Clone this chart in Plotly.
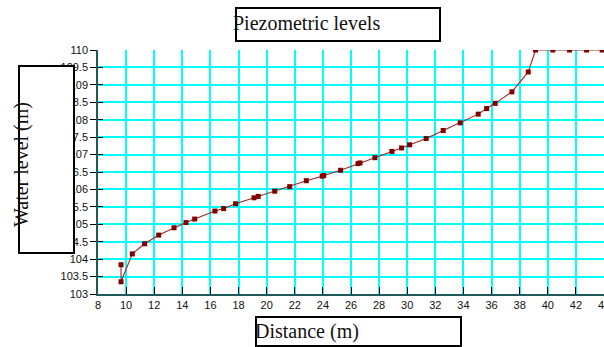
import plotly.graph_objects as go

# ---- data ----
distance = [9.64, 9.64, 10.44, 11.32, 12.32, 13.41, 14.26, 14.88, 16.32, 16.94, 17.79,
            19.10, 19.40, 20.57, 21.64, 22.82, 23.95, 24.06, 25.26, 26.50, 26.64, 27.70,
            28.91, 29.60, 30.17, 31.35, 32.56, 33.77, 35.05, 35.65, 36.26, 37.45, 38.61,
            39.13, 40.36, 41.55, 42.76, 43.87]
water_level = [103.84, 103.35, 104.15, 104.44, 104.69, 104.90, 105.05, 105.15, 105.38, 105.45,
               105.59, 105.76, 105.80, 105.95, 106.08, 106.25, 106.38, 106.40, 106.55, 106.74,
               106.76, 106.91, 107.09, 107.19, 107.28, 107.46, 107.69, 107.91, 108.16, 108.32,
               108.47, 108.80, 109.37, 110.0, 110.0, 110.0, 110.0, 110.0]

title_text = "Piezometric levels"
x_title = "Distance (m)"
y_title = "Water level (m)"

W, H = 604, 347
L, R, T, B = 98, 0, 50, 53
PW, PH = W - L - R, H - T - B


def px(xp):
    return (xp - L) / PW


def py(yp):
    return (H - B - yp) / PH


fig = go.Figure()
fig.add_trace(go.Scatter(
    x=distance, y=water_level, mode="lines+markers",
    line=dict(color="#A02525", width=1.1),
    marker=dict(symbol="square", size=5, color="#800000"),
    showlegend=False, cliponaxis=True,
))
# invisible trace for overlay axis (inside ticks)
fig.add_trace(go.Scatter(x=[distance[0]], y=[water_level[0]], yaxis="y2",
                         mode="markers", marker=dict(opacity=0),
                         showlegend=False, hoverinfo="skip"))

axis_line = "#1E5A5A"
tickfont = dict(family="Liberation Sans, Arial", size=11, color="#111111")

fig.update_layout(
    width=W, height=H, autosize=False,
    margin=dict(l=L, r=R, t=T, b=B, pad=0, autoexpand=False),
    paper_bgcolor="white", plot_bgcolor="white",
    xaxis=dict(range=[8, 44], dtick=2, tick0=8, showgrid=True, automargin=False,
               gridcolor="#00FFFF", gridwidth=1.5,
               showline=True, linecolor=axis_line, linewidth=1.5,
               ticks="inside", ticklen=7, tickcolor="black", tickwidth=1,
               tickfont=tickfont, zeroline=False, ticklabeloverflow="allow"),
    yaxis=dict(range=[103, 110], dtick=0.5, tick0=103, showgrid=True, automargin=False,
               gridcolor="#00FFFF", gridwidth=1.5,
               showline=True, linecolor=axis_line, linewidth=1.5,
               ticks="outside", ticklen=6, tickcolor="black", tickwidth=1,
               tickfont=tickfont, zeroline=False, ticklabelstandoff=0),
    yaxis2=dict(range=[103, 110], dtick=0.5, tick0=103, overlaying="y", side="left",
                anchor="x", showgrid=False, showline=False, zeroline=False, automargin=False,
                ticks="inside", ticklen=5, tickcolor="black", tickwidth=1,
                showticklabels=False),
)

box = dict(type="rect", xref="paper", yref="paper", layer="above",
           line=dict(color="black", width=2), fillcolor="white")
fig.add_shape(**box, x0=px(236), x1=px(440), y0=py(8), y1=py(41))
fig.add_shape(**box, x0=px(256), x1=px(461), y0=py(317), y1=py(346))
fig.add_shape(**box, x0=px(19), x1=px(74), y0=py(66), y1=py(253))

serif = dict(family="Liberation Serif, Times New Roman", size=20, color="#111111")
fig.add_annotation(text=title_text, xref="paper", yref="paper", x=px(231), y=py(23),
                   xanchor="left", yanchor="middle", showarrow=False, font=serif)
fig.add_annotation(text=x_title, xref="paper", yref="paper", x=px(253), y=py(331),
                   xanchor="left", yanchor="middle", showarrow=False, font=serif)
fig.add_annotation(text=y_title, xref="paper", yref="paper", x=px(21), y=py(165),
                   xanchor="center", yanchor="middle", textangle=-90,
                   showarrow=False, font=serif)

fig.write_html("out.html")
